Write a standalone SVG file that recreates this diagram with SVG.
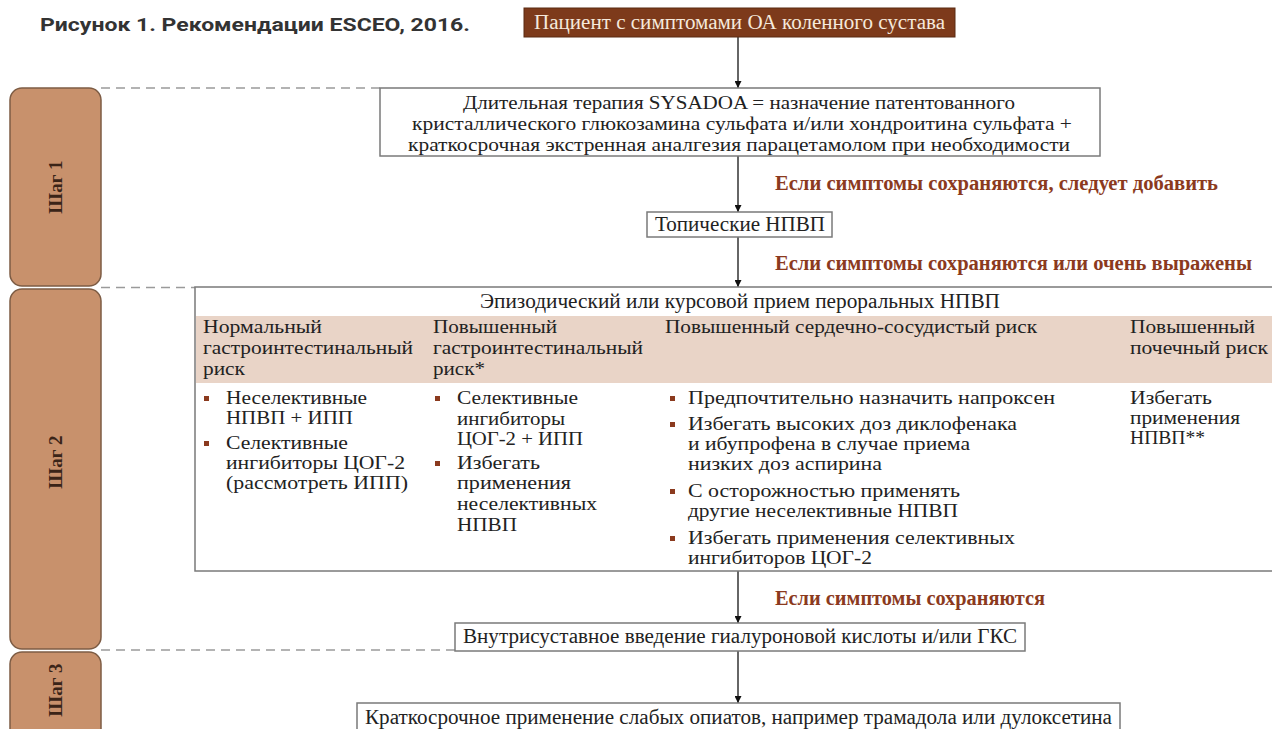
<svg xmlns="http://www.w3.org/2000/svg" width="1272" height="729" viewBox="0 0 1272 729">
<defs>
<style>
.t{font-family:"Liberation Serif","DejaVu Serif",serif;font-size:18px;fill:#222}
.s{font-family:"Liberation Serif","DejaVu Serif",serif;font-size:20px;fill:#222}
.lbl{font-family:"Liberation Serif","DejaVu Serif",serif;font-size:20px;font-weight:bold;fill:#8B3A1E}
.step{font-family:"Liberation Serif","DejaVu Serif",serif;font-size:19px;font-weight:bold;fill:#3a2418}
.box{fill:#fff;stroke:#7a7a7a;stroke-width:1.5}
.stepbox{fill:#C8916C;stroke:#7d5c44;stroke-width:1.5}
.dash{stroke:#9a9a9a;stroke-width:1.5;stroke-dasharray:9 6;fill:none}
.conn{stroke:#333;stroke-width:1.5;fill:none;marker-end:url(#arr)}
.bul{fill:#8B3A1E}
</style>
<marker id="arr" viewBox="0 0 10 10" refX="10" refY="5" markerWidth="7" markerHeight="7" markerUnits="userSpaceOnUse" orient="auto">
<path d="M0,0 L10,5 L0,10 z" fill="#111"/>
</marker>
</defs>
<rect width="1272" height="729" fill="#fff"/>

<g id="title">
<text x="40" y="31" font-family="Roboto,'Liberation Sans',sans-serif" font-size="19" font-weight="bold" fill="#333" textLength="430" lengthAdjust="spacingAndGlyphs">Рисунок 1. Рекомендации ESCEO, 2016.</text>
</g>

<g id="dashes">
<line class="dash" x1="101" y1="88" x2="380" y2="88"/>
<line class="dash" x1="101" y1="287.5" x2="195" y2="287.5"/>
<line class="dash" x1="101" y1="650" x2="455" y2="650"/>
</g>

<g id="step1">
<rect class="stepbox" x="10" y="88" width="91" height="198" rx="12"/>
<text class="step" transform="translate(62,187) rotate(-90)" text-anchor="middle">Шаг 1</text>
</g>
<g id="step2">
<rect class="stepbox" x="10" y="289" width="91" height="360" rx="12"/>
<text class="step" transform="translate(62,462) rotate(-90)" text-anchor="middle">Шаг 2</text>
</g>
<g id="step3">
<rect class="stepbox" x="10" y="652" width="91" height="90" rx="12"/>
<text class="step" transform="translate(62,690) rotate(-90)" text-anchor="middle">Шаг 3</text>
</g>

<g id="connectors">
<line class="conn" x1="738" y1="37" x2="738" y2="88"/>
<line class="conn" x1="738" y1="156" x2="738" y2="212"/>
<line class="conn" x1="738" y1="237" x2="738" y2="287"/>
<line class="conn" x1="738" y1="571" x2="738" y2="623"/>
<line class="conn" x1="738" y1="651" x2="738" y2="703"/>
</g>

<g id="labels">
<text class="lbl" x="775" y="190" textLength="443" lengthAdjust="spacingAndGlyphs">Если симптомы сохраняются, следует добавить</text>
<text class="lbl" x="775" y="270" textLength="477" lengthAdjust="spacingAndGlyphs">Если симптомы сохраняются или очень выражены</text>
<text class="lbl" x="775" y="605" textLength="270" lengthAdjust="spacingAndGlyphs">Если симптомы сохраняются</text>
</g>

<g id="patient">
<rect x="524" y="8" width="431" height="29" fill="#7D3A1B" stroke="#5a2a12" stroke-width="1"/>
<text class="s" x="534" y="29" style="fill:#F5E9DC" textLength="411" lengthAdjust="spacingAndGlyphs">Пациент с симптомами ОА коленного сустава</text>
</g>

<g id="sysadoa">
<rect class="box" x="380" y="88" width="720" height="68"/>
<text class="t"><tspan x="463" y="109" textLength="552" lengthAdjust="spacingAndGlyphs">Длительная терапия SYSADOA = назначение патентованного</tspan><tspan x="412" y="130" textLength="660" lengthAdjust="spacingAndGlyphs">кристаллического глюкозамина сульфата и/или хондроитина сульфата +</tspan><tspan x="408" y="151" textLength="662" lengthAdjust="spacingAndGlyphs">краткосрочная экстренная аналгезия парацетамолом при необходимости</tspan></text>
</g>

<g id="topical">
<rect class="box" x="647" y="212" width="185" height="25"/>
<text class="s" x="655" y="231" textLength="170" lengthAdjust="spacingAndGlyphs">Топические НПВП</text>
</g>

<g id="oral">
<rect class="box" x="195" y="287" width="1085" height="284"/>
<rect x="196" y="316" width="1076" height="67" fill="#E9D4C7"/>
<text class="s" x="480" y="308" textLength="520" lengthAdjust="spacingAndGlyphs">Эпизодический или курсовой прием пероральных НПВП</text>
<text class="t"><tspan x="203" y="333" textLength="119" lengthAdjust="spacingAndGlyphs">Нормальный</tspan><tspan x="203" y="354" textLength="210" lengthAdjust="spacingAndGlyphs">гастроинтестинальный</tspan><tspan x="203" y="375" textLength="42" lengthAdjust="spacingAndGlyphs">риск</tspan></text>
<text class="t"><tspan x="433" y="333" textLength="124" lengthAdjust="spacingAndGlyphs">Повышенный</tspan><tspan x="433" y="354" textLength="210" lengthAdjust="spacingAndGlyphs">гастроинтестинальный</tspan><tspan x="433" y="375" textLength="52" lengthAdjust="spacingAndGlyphs">риск*</tspan></text>
<text class="t" x="665" y="333" textLength="372" lengthAdjust="spacingAndGlyphs">Повышенный сердечно-сосудистый риск</text>
<text class="t"><tspan x="1130" y="333" textLength="125" lengthAdjust="spacingAndGlyphs">Повышенный</tspan><tspan x="1130" y="354" textLength="138" lengthAdjust="spacingAndGlyphs">почечный риск</tspan></text>

<rect class="bul" x="204" y="396" width="5" height="5"/>
<rect class="bul" x="204" y="441" width="5" height="5"/>
<text class="t"><tspan x="226" y="404" textLength="141" lengthAdjust="spacingAndGlyphs">Неселективные</tspan><tspan x="226" y="424" textLength="127" lengthAdjust="spacingAndGlyphs">НПВП + ИПП</tspan><tspan x="226" y="449" textLength="122" lengthAdjust="spacingAndGlyphs">Селективные</tspan><tspan x="226" y="469" textLength="179" lengthAdjust="spacingAndGlyphs">ингибиторы ЦОГ-2</tspan><tspan x="226" y="489" textLength="182" lengthAdjust="spacingAndGlyphs">(рассмотреть ИПП)</tspan></text>

<rect class="bul" x="435" y="396" width="5" height="5"/>
<rect class="bul" x="435" y="461" width="5" height="5"/>
<text class="t"><tspan x="457" y="404" textLength="121" lengthAdjust="spacingAndGlyphs">Селективные</tspan><tspan x="457" y="425" textLength="108" lengthAdjust="spacingAndGlyphs">ингибиторы</tspan><tspan x="457" y="445" textLength="126" lengthAdjust="spacingAndGlyphs">ЦОГ-2 + ИПП</tspan><tspan x="457" y="469" textLength="83" lengthAdjust="spacingAndGlyphs">Избегать</tspan><tspan x="457" y="489" textLength="114" lengthAdjust="spacingAndGlyphs">применения</tspan><tspan x="457" y="510" textLength="140" lengthAdjust="spacingAndGlyphs">неселективных</tspan><tspan x="457" y="531" textLength="60" lengthAdjust="spacingAndGlyphs">НПВП</tspan></text>

<rect class="bul" x="670" y="396" width="5" height="5"/>
<rect class="bul" x="670" y="422" width="5" height="5"/>
<rect class="bul" x="670" y="489" width="5" height="5"/>
<rect class="bul" x="670" y="536" width="5" height="5"/>
<text class="t"><tspan x="688" y="404" textLength="367" lengthAdjust="spacingAndGlyphs">Предпочтительно назначить напроксен</tspan><tspan x="688" y="430" textLength="329" lengthAdjust="spacingAndGlyphs">Избегать высоких доз диклофенака</tspan><tspan x="688" y="450" textLength="282" lengthAdjust="spacingAndGlyphs">и ибупрофена в случае приема</tspan><tspan x="688" y="470" textLength="194" lengthAdjust="spacingAndGlyphs">низких доз аспирина</tspan><tspan x="688" y="497" textLength="272" lengthAdjust="spacingAndGlyphs">С осторожностью применять</tspan><tspan x="688" y="517" textLength="270" lengthAdjust="spacingAndGlyphs">другие неселективные НПВП</tspan><tspan x="688" y="544" textLength="327" lengthAdjust="spacingAndGlyphs">Избегать применения селективных</tspan><tspan x="688" y="564" textLength="184" lengthAdjust="spacingAndGlyphs">ингибиторов ЦОГ-2</tspan></text>

<text class="t"><tspan x="1130" y="404" textLength="82" lengthAdjust="spacingAndGlyphs">Избегать</tspan><tspan x="1130" y="424" textLength="110" lengthAdjust="spacingAndGlyphs">применения</tspan><tspan x="1130" y="444" textLength="75" lengthAdjust="spacingAndGlyphs">НПВП**</tspan></text>
</g>

<g id="intra">
<rect class="box" x="455" y="623" width="570" height="28"/>
<text class="s" x="463" y="643" textLength="554" lengthAdjust="spacingAndGlyphs">Внутрисуставное введение гиалуроновой кислоты и/или ГКС</text>
</g>

<g id="opioids">
<rect class="box" x="357" y="703" width="763" height="40"/>
<text class="s" x="365" y="724" textLength="747" lengthAdjust="spacingAndGlyphs">Краткосрочное применение слабых опиатов, например трамадола или дулоксетина</text>
</g>
</svg>
